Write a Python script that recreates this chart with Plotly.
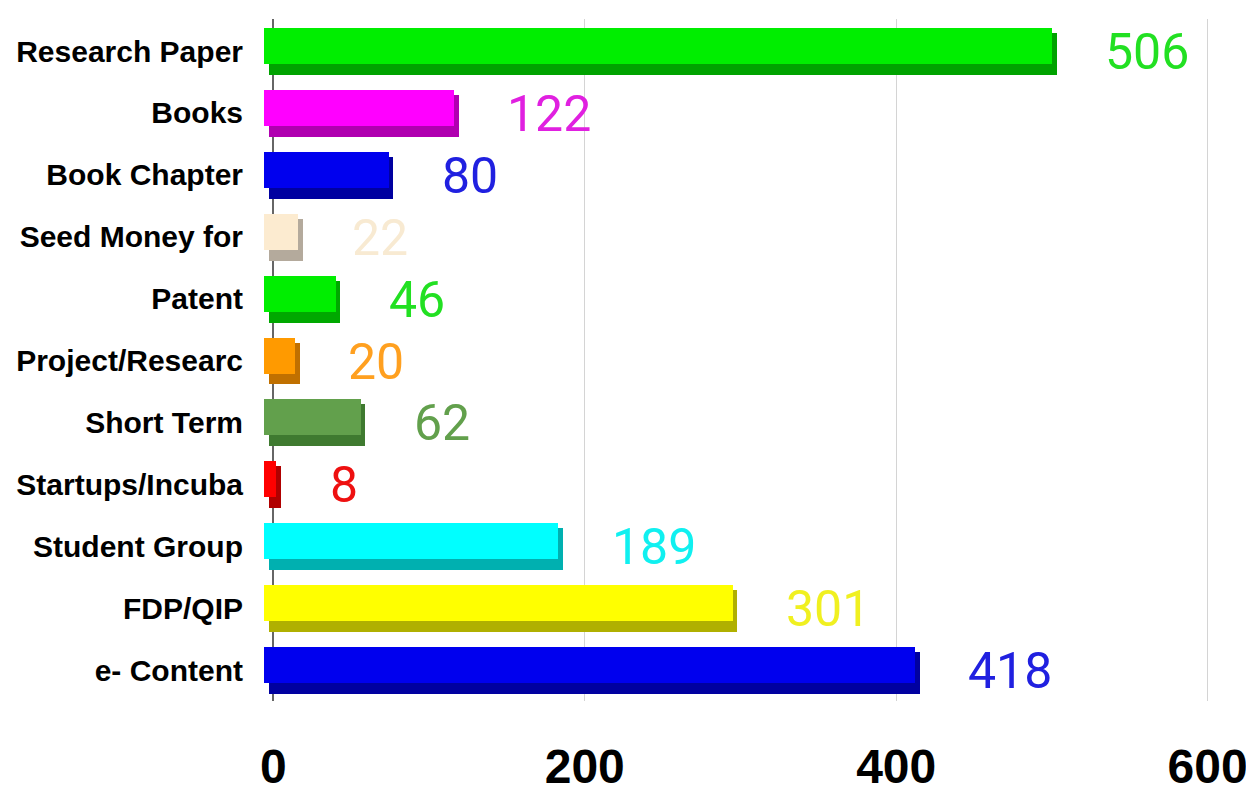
import plotly.graph_objects as go

categories = ["Research Paper", "Books", "Book Chapter", "Seed Money for", "Patent",
              "Project/Researc", "Short Term", "Startups/Incuba", "Student Group",
              "FDP/QIP", "e- Content"]
values = [506, 122, 80, 22, 46, 20, 62, 8, 189, 301, 418]
tick_vals = [0, 200, 400, 600]

front_colors = ["#00ee00", "#ff00ff", "#0000ee", "#fcebd0", "#00ee00", "#ff9a00",
                "#62a04c", "#ff0000", "#00ffff", "#ffff00", "#0000ee"]
depth_colors = ["#00a200", "#b000b0", "#0000a0", "#b4aa9c", "#00a800", "#c07000",
                "#3f7a30", "#b00000", "#00b0b0", "#b0b000", "#0000a0"]
label_colors = ["#22e022", "#e020e0", "#2020e0", "#f8ead2", "#22e022", "#ffa020",
                "#62a04c", "#ee1010", "#10f0f0", "#f0f020", "#2020e0"]

fig = go.Figure()
# depth (bottom/side) face
fig.add_trace(go.Bar(
    y=categories, x=values, orientation="h", base=-3,
    offset=-0.29, width=0.677,
    marker=dict(color=depth_colors, line=dict(width=0)),
    hoverinfo="skip", showlegend=False,
))
# front face
fig.add_trace(go.Bar(
    y=categories, x=values, orientation="h", base=-6,
    offset=-0.371, width=0.581,
    marker=dict(color=front_colors, line=dict(width=0)),
    showlegend=False,
))

for cat, v, c in zip(categories, values, label_colors):
    fig.add_annotation(
        x=v, y=cat, text=str(v), showarrow=False, xanchor="left", yanchor="middle",
        xshift=42, yshift=-1,
        font=dict(family="Roboto", size=50, color=c),
    )

# page body has an 8px default margin, so the figure is sized/offset to compensate
fig.update_layout(
    width=1246, height=784,
    margin=dict(l=256, r=37, t=11, b=91, autoexpand=False),
    paper_bgcolor="white", plot_bgcolor="white",
    barmode="overlay",
    bargap=0,
)
fig.update_xaxes(
    range=[-6, 606], tickvals=tick_vals, automargin=False,
    showgrid=True, gridcolor="#d4d4d4", gridwidth=1,
    zeroline=True, zerolinecolor="#666666", zerolinewidth=1.5,
    showline=False, ticks="", ticklabelstandoff=33,
    tickfont=dict(family="Liberation Sans", size=48, color="black", weight="bold"),
)
fig.update_yaxes(
    autorange="reversed", showgrid=False, showline=False, ticks="",
    automargin=False, ticklabelstandoff=20,
    tickfont=dict(family="Liberation Sans", size=30, color="black", weight="bold"),
)

fig.write_html("out.html")
